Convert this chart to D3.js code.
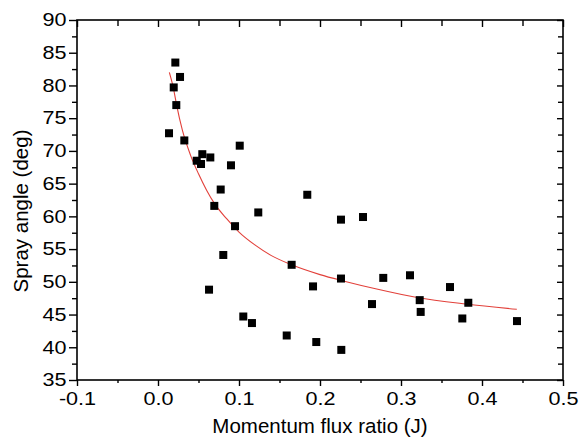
<!DOCTYPE html>
<html>
<head>
<meta charset="utf-8">
<script src="https://cdn.jsdelivr.net/npm/d3@7"></script>
<style>
  html, body { margin: 0; padding: 0; background: #ffffff; }
  svg { display: block; }
  text { font-family: "Liberation Sans", Arial, sans-serif; fill: #000; }
</style>
</head>
<body>
<svg id="chart" width="587" height="440"></svg>
<script>
// ---- data ----
const jValues = [0.0214, 0.0272, 0.0194, 0.0226, 0.0136, 0.0325, 0.0478, 0.0547, 0.0531, 0.0646,
                 0.0901, 0.1009, 0.0774, 0.0695, 0.1238, 0.0951, 0.0806, 0.0630, 0.1053, 0.1160,
                 0.1589, 0.1650, 0.1843, 0.2259, 0.2531, 0.2259, 0.1914, 0.2781, 0.3111, 0.3605,
                 0.3231, 0.2642, 0.3243, 0.3831, 0.3757, 0.4432, 0.1954, 0.2263];
const angleValues = [83.5, 81.3, 79.7, 77.0, 72.7, 71.6, 68.5, 69.5, 68.0, 69.0,
                     67.8, 70.8, 64.1, 61.6, 60.6, 58.5, 54.1, 48.8, 44.7, 43.7,
                     41.8, 52.6, 63.3, 59.5, 59.9, 50.5, 49.3, 50.6, 51.0, 49.2,
                     47.2, 46.6, 45.4, 46.8, 44.4, 44.0, 40.8, 39.6];
const fitJ = [0.014, 0.019, 0.023, 0.030, 0.040, 0.050, 0.060, 0.070, 0.085, 0.100,
              0.120, 0.140, 0.165, 0.200, 0.230, 0.270, 0.320, 0.380, 0.443];
const fitAngle = [82.0, 79.6, 77.0, 73.2, 69.4, 66.5, 64.0, 61.9, 59.6, 57.6,
                  55.6, 54.0, 52.6, 51.1, 50.1, 48.9, 47.6, 46.6, 45.8];
const xMajorTicks = [-0.1, 0.0, 0.1, 0.2, 0.3, 0.4, 0.5];
const xMinorTicks = [-0.05, 0.05, 0.15, 0.25, 0.35, 0.45];
const yMajorTicks = [35, 40, 45, 50, 55, 60, 65, 70, 75, 80, 85, 90];
const yMinorTicks = [37.5, 42.5, 47.5, 52.5, 57.5, 62.5, 67.5, 72.5, 77.5, 82.5, 87.5];
const xTitle = "Momentum flux ratio (J)";
const yTitle = "Spray angle (deg)";

// ---- layout ----
const svg = d3.select("#chart");
const L = 77, R = 563, T = 20, B = 380;
const SX = 1.2; // horizontal stretch of tick labels seen in the reference

const x = d3.scaleLinear().domain([-0.1, 0.5]).range([L, R]);
const y = d3.scaleLinear().domain([35, 90]).range([B, T]);

const loc = d3.formatLocale({decimal: ".", thousands: ",", grouping: [3], currency: ["", ""], minus: "-"});
const fmtX = loc.format(".1f");
const fmtY = loc.format("d");

// frame
svg.append("rect")
  .attr("x", L).attr("y", T).attr("width", R - L).attr("height", B - T)
  .attr("fill", "none").attr("stroke", "#000").attr("stroke-width", 1.6);

function styleAxis(g) {
  g.select(".domain").remove();
  g.selectAll(".tick line").attr("stroke", "#000").attr("stroke-width", 1.4);
}

// bottom axis (outward ticks)
svg.append("g").attr("transform", `translate(0,${B})`)
  .call(d3.axisBottom(x).tickValues(xMajorTicks).tickSize(6).tickPadding(6).tickFormat(fmtX))
  .call(styleAxis)
  .call(g => g.selectAll("text")
    .attr("font-size", 18).attr("font-family", "Liberation Sans, Arial, sans-serif")
    .attr("transform", `scale(${SX},1)`));
svg.append("g").attr("transform", `translate(0,${B})`)
  .call(d3.axisBottom(x).tickValues(xMinorTicks).tickSize(3).tickFormat(""))
  .call(styleAxis);

// top axis (inward ticks)
svg.append("g").attr("transform", `translate(0,${T})`)
  .call(d3.axisBottom(x).tickValues(xMajorTicks).tickSize(7).tickFormat(""))
  .call(styleAxis);
svg.append("g").attr("transform", `translate(0,${T})`)
  .call(d3.axisBottom(x).tickValues(xMinorTicks).tickSize(6).tickFormat(""))
  .call(styleAxis);

// left axis (outward ticks)
svg.append("g").attr("transform", `translate(${L},0)`)
  .call(d3.axisLeft(y).tickValues(yMajorTicks).tickSize(8).tickPadding(2).tickFormat(fmtY))
  .call(styleAxis)
  .call(g => g.selectAll("text")
    .attr("font-size", 18).attr("font-family", "Liberation Sans, Arial, sans-serif")
    .attr("x", -10.5 / SX)
    .attr("transform", `scale(${SX},1)`));
svg.append("g").attr("transform", `translate(${L},0)`)
  .call(d3.axisLeft(y).tickValues(yMinorTicks).tickSize(5).tickFormat(""))
  .call(styleAxis);

// right axis (inward ticks)
svg.append("g").attr("transform", `translate(${R},0)`)
  .call(d3.axisLeft(y).tickValues(yMajorTicks).tickSize(6).tickFormat(""))
  .call(styleAxis);
svg.append("g").attr("transform", `translate(${R},0)`)
  .call(d3.axisLeft(y).tickValues(yMinorTicks).tickSize(5).tickFormat(""))
  .call(styleAxis);

// fitted curve
const fitData = fitJ.map((d, i) => [d, fitAngle[i]]);
svg.append("path")
  .datum(fitData)
  .attr("fill", "none")
  .attr("stroke", "#e2403a")
  .attr("stroke-width", 1.1)
  .attr("d", d3.line().x(d => x(d[0])).y(d => y(d[1])).curve(d3.curveMonotoneX));

// scatter squares
const pts = jValues.map((d, i) => [d, angleValues[i]]);
const S = 8;
svg.append("g").selectAll("rect")
  .data(pts)
  .join("rect")
  .attr("x", d => x(d[0]) - S / 2)
  .attr("y", d => y(d[1]) - S / 2)
  .attr("width", S).attr("height", S)
  .attr("fill", "#000");

// axis titles
svg.append("text")
  .attr("x", (L + R) / 2).attr("y", 433)
  .attr("text-anchor", "middle")
  .attr("font-size", 20.5)
  .text(xTitle);

svg.append("text")
  .attr("transform", `translate(28,${211}) rotate(-90)`)
  .attr("text-anchor", "middle")
  .attr("font-size", 20.5)
  .text(yTitle);
</script>
</body>
</html>
